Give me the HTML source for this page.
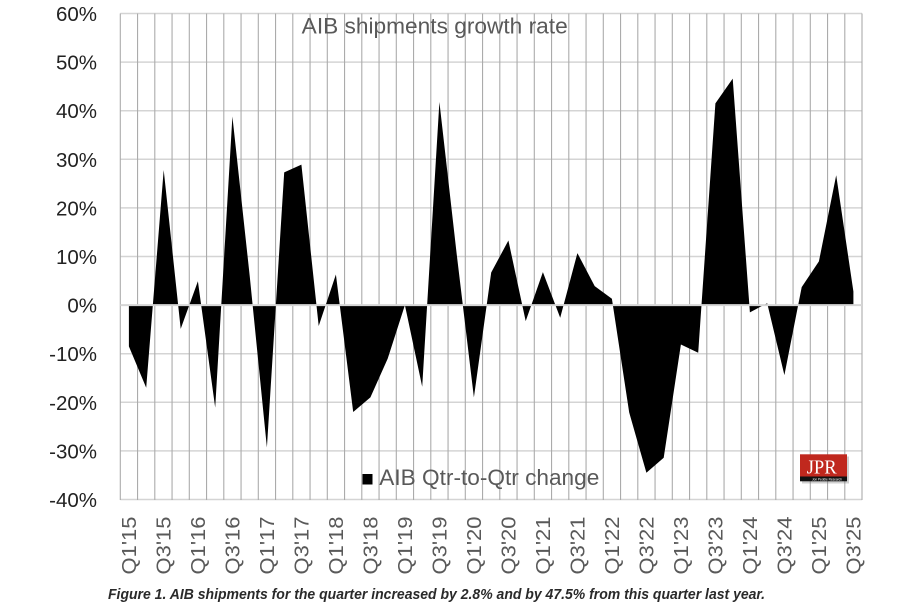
<!DOCTYPE html>
<html>
<head>
<meta charset="utf-8">
<style>
  html, body { margin: 0; padding: 0; background: #ffffff; }
  svg { display: block; }
</style>
</head>
<body>
<svg width="906" height="609" viewBox="0 0 906 609" xmlns="http://www.w3.org/2000/svg">
  <rect x="0" y="0" width="906" height="609" fill="#ffffff"/>

  <!-- horizontal gridlines -->
  <g stroke="#d4d4d4" stroke-width="1.5">
    <line x1="120.3" y1="13.5" x2="862" y2="13.5"/>
    <line x1="120.3" y1="62.1" x2="862" y2="62.1"/>
    <line x1="120.3" y1="110.7" x2="862" y2="110.7"/>
    <line x1="120.3" y1="159.3" x2="862" y2="159.3"/>
    <line x1="120.3" y1="207.9" x2="862" y2="207.9"/>
    <line x1="120.3" y1="256.5" x2="862" y2="256.5"/>
    <line x1="120.3" y1="353.7" x2="862" y2="353.7"/>
    <line x1="120.3" y1="402.3" x2="862" y2="402.3"/>
    <line x1="120.3" y1="450.9" x2="862" y2="450.9"/>
    <line x1="120.3" y1="499.5" x2="862" y2="499.5"/>
  </g>

  <!-- vertical gridlines -->
  <g stroke="#ababab" stroke-width="1.1">
    <line x1="120.3" y1="13.5" x2="120.3" y2="500"/>
    <line x1="137.55" y1="13.5" x2="137.55" y2="500"/>
    <line x1="154.8" y1="13.5" x2="154.8" y2="500"/>
    <line x1="172.05" y1="13.5" x2="172.05" y2="500"/>
    <line x1="189.3" y1="13.5" x2="189.3" y2="500"/>
    <line x1="206.55" y1="13.5" x2="206.55" y2="500"/>
    <line x1="223.8" y1="13.5" x2="223.8" y2="500"/>
    <line x1="241.05" y1="13.5" x2="241.05" y2="500"/>
    <line x1="258.3" y1="13.5" x2="258.3" y2="500"/>
    <line x1="275.55" y1="13.5" x2="275.55" y2="500"/>
    <line x1="292.8" y1="13.5" x2="292.8" y2="500"/>
    <line x1="310.05" y1="13.5" x2="310.05" y2="500"/>
    <line x1="327.3" y1="13.5" x2="327.3" y2="500"/>
    <line x1="344.55" y1="13.5" x2="344.55" y2="500"/>
    <line x1="361.8" y1="13.5" x2="361.8" y2="500"/>
    <line x1="379.05" y1="13.5" x2="379.05" y2="500"/>
    <line x1="396.3" y1="13.5" x2="396.3" y2="500"/>
    <line x1="413.55" y1="13.5" x2="413.55" y2="500"/>
    <line x1="430.8" y1="13.5" x2="430.8" y2="500"/>
    <line x1="448.05" y1="13.5" x2="448.05" y2="500"/>
    <line x1="465.3" y1="13.5" x2="465.3" y2="500"/>
    <line x1="482.55" y1="13.5" x2="482.55" y2="500"/>
    <line x1="499.8" y1="13.5" x2="499.8" y2="500"/>
    <line x1="517.05" y1="13.5" x2="517.05" y2="500"/>
    <line x1="534.3" y1="13.5" x2="534.3" y2="500"/>
    <line x1="551.55" y1="13.5" x2="551.55" y2="500"/>
    <line x1="568.8" y1="13.5" x2="568.8" y2="500"/>
    <line x1="586.05" y1="13.5" x2="586.05" y2="500"/>
    <line x1="603.3" y1="13.5" x2="603.3" y2="500"/>
    <line x1="620.55" y1="13.5" x2="620.55" y2="500"/>
    <line x1="637.8" y1="13.5" x2="637.8" y2="500"/>
    <line x1="655.05" y1="13.5" x2="655.05" y2="500"/>
    <line x1="672.3" y1="13.5" x2="672.3" y2="500"/>
    <line x1="689.55" y1="13.5" x2="689.55" y2="500"/>
    <line x1="706.8" y1="13.5" x2="706.8" y2="500"/>
    <line x1="724.05" y1="13.5" x2="724.05" y2="500"/>
    <line x1="741.3" y1="13.5" x2="741.3" y2="500"/>
    <line x1="758.55" y1="13.5" x2="758.55" y2="500"/>
    <line x1="775.8" y1="13.5" x2="775.8" y2="500"/>
    <line x1="793.05" y1="13.5" x2="793.05" y2="500"/>
    <line x1="810.3" y1="13.5" x2="810.3" y2="500"/>
    <line x1="827.55" y1="13.5" x2="827.55" y2="500"/>
    <line x1="844.8" y1="13.5" x2="844.8" y2="500"/>
    <line x1="862" y1="13.5" x2="862" y2="500"/>
  </g>

  <!-- area series -->
  <polygon fill="#000000" points="
    128.9,305.1 128.9,346.4 146.2,387.7 163.7,170.0 180.7,328.9 197.9,281.3
    215.2,407.6 232.4,116.5 249.7,275.9 266.9,447.5 284.2,172.4 301.4,164.6
    318.7,326.0 335.9,274.5 353.2,412.0 370.4,397.4 387.7,358.6 404.9,305.1
    422.2,386.7 439.4,102.0 456.7,254.1 473.9,397.4 491.2,272.5 508.4,240.5
    525.7,321.1 542.9,272.1 560.2,317.7 577.4,253.1 594.7,286.1 611.9,298.8
    629.2,412.5 646.4,472.8 663.7,457.7 680.9,344.5 698.2,352.7 715.4,103.4
    732.7,78.6 749.9,312.4 767.2,303.2 784.4,375.1 801.7,287.1 818.9,261.4
    836.2,175.3 853.4,291.5 853.4,305.1"/>

  <!-- zero axis line -->
  <line x1="120.3" y1="305.1" x2="862" y2="305.1" stroke="#d6d6d6" stroke-width="2"/>

  <!-- title -->
  <text x="301.7" y="33.3" font-family="Liberation Sans, sans-serif" font-size="22" fill="#595959" textLength="266" lengthAdjust="spacingAndGlyphs">AIB shipments growth rate</text>

  <!-- legend -->
  <rect x="362.5" y="474" width="10" height="10.5" fill="#000000"/>
  <text x="379.3" y="485" font-family="Liberation Sans, sans-serif" font-size="22" fill="#595959" textLength="220" lengthAdjust="spacingAndGlyphs">AIB Qtr-to-Qtr change</text>

  <!-- y axis labels -->
  <g font-family="Liberation Sans, sans-serif" font-size="20.5" fill="#222222" text-anchor="end">
    <text x="97" y="21">60%</text>
    <text x="97" y="69.6">50%</text>
    <text x="97" y="118.2">40%</text>
    <text x="97" y="166.8">30%</text>
    <text x="97" y="215.4">20%</text>
    <text x="97" y="264">10%</text>
    <text x="97" y="312.6">0%</text>
    <text x="97" y="361.2">-10%</text>
    <text x="97" y="409.8">-20%</text>
    <text x="97" y="458.4">-30%</text>
    <text x="97" y="507">-40%</text>
  </g>

  <!-- x axis labels -->
  <g font-family="Liberation Sans, sans-serif" font-size="20" fill="#595959" text-anchor="end">
    <text transform="translate(135.9,516.5) rotate(-90)" textLength="58" lengthAdjust="spacingAndGlyphs">Q1'15</text>
    <text transform="translate(170.4,516.5) rotate(-90)" textLength="58" lengthAdjust="spacingAndGlyphs">Q3'15</text>
    <text transform="translate(204.9,516.5) rotate(-90)" textLength="58" lengthAdjust="spacingAndGlyphs">Q1'16</text>
    <text transform="translate(239.4,516.5) rotate(-90)" textLength="58" lengthAdjust="spacingAndGlyphs">Q3'16</text>
    <text transform="translate(273.9,516.5) rotate(-90)" textLength="58" lengthAdjust="spacingAndGlyphs">Q1'17</text>
    <text transform="translate(308.4,516.5) rotate(-90)" textLength="58" lengthAdjust="spacingAndGlyphs">Q3'17</text>
    <text transform="translate(342.9,516.5) rotate(-90)" textLength="58" lengthAdjust="spacingAndGlyphs">Q1'18</text>
    <text transform="translate(377.4,516.5) rotate(-90)" textLength="58" lengthAdjust="spacingAndGlyphs">Q3'18</text>
    <text transform="translate(411.9,516.5) rotate(-90)" textLength="58" lengthAdjust="spacingAndGlyphs">Q1'19</text>
    <text transform="translate(446.4,516.5) rotate(-90)" textLength="58" lengthAdjust="spacingAndGlyphs">Q3'19</text>
    <text transform="translate(480.9,516.5) rotate(-90)" textLength="58" lengthAdjust="spacingAndGlyphs">Q1'20</text>
    <text transform="translate(515.4,516.5) rotate(-90)" textLength="58" lengthAdjust="spacingAndGlyphs">Q3'20</text>
    <text transform="translate(549.9,516.5) rotate(-90)" textLength="58" lengthAdjust="spacingAndGlyphs">Q1'21</text>
    <text transform="translate(584.4,516.5) rotate(-90)" textLength="58" lengthAdjust="spacingAndGlyphs">Q3'21</text>
    <text transform="translate(618.9,516.5) rotate(-90)" textLength="58" lengthAdjust="spacingAndGlyphs">Q1'22</text>
    <text transform="translate(653.4,516.5) rotate(-90)" textLength="58" lengthAdjust="spacingAndGlyphs">Q3'22</text>
    <text transform="translate(687.9,516.5) rotate(-90)" textLength="58" lengthAdjust="spacingAndGlyphs">Q1'23</text>
    <text transform="translate(722.4,516.5) rotate(-90)" textLength="58" lengthAdjust="spacingAndGlyphs">Q3'23</text>
    <text transform="translate(756.9,516.5) rotate(-90)" textLength="58" lengthAdjust="spacingAndGlyphs">Q1'24</text>
    <text transform="translate(791.4,516.5) rotate(-90)" textLength="58" lengthAdjust="spacingAndGlyphs">Q3'24</text>
    <text transform="translate(825.9,516.5) rotate(-90)" textLength="58" lengthAdjust="spacingAndGlyphs">Q1'25</text>
    <text transform="translate(860.4,516.5) rotate(-90)" textLength="58" lengthAdjust="spacingAndGlyphs">Q3'25</text>
  </g>

  <!-- JPR logo -->
  <rect x="802" y="456.5" width="47" height="27" fill="#777777" opacity="0.35"/>
  <rect x="800" y="454.3" width="47" height="22.5" fill="#c0281e"/>
  <rect x="800" y="476.5" width="47" height="4.8" fill="#111111"/>
  <text x="806.7" y="473.3" font-family="Liberation Serif, serif" font-size="20" fill="#ffffff" textLength="30" lengthAdjust="spacingAndGlyphs">JPR</text>
  <text x="812" y="480.4" font-family="Liberation Sans, sans-serif" font-size="3.8" fill="#ffffff" textLength="30" lengthAdjust="spacingAndGlyphs">Jon Peddie Research</text>

  <!-- caption -->
  <text x="108" y="599" font-family="Liberation Sans, sans-serif" font-size="15" font-weight="bold" font-style="italic" fill="#2a2a2a" textLength="657" lengthAdjust="spacingAndGlyphs">Figure 1. AIB shipments for the quarter increased by 2.8% and by 47.5% from this quarter last year.</text>
</svg>
</body>
</html>
